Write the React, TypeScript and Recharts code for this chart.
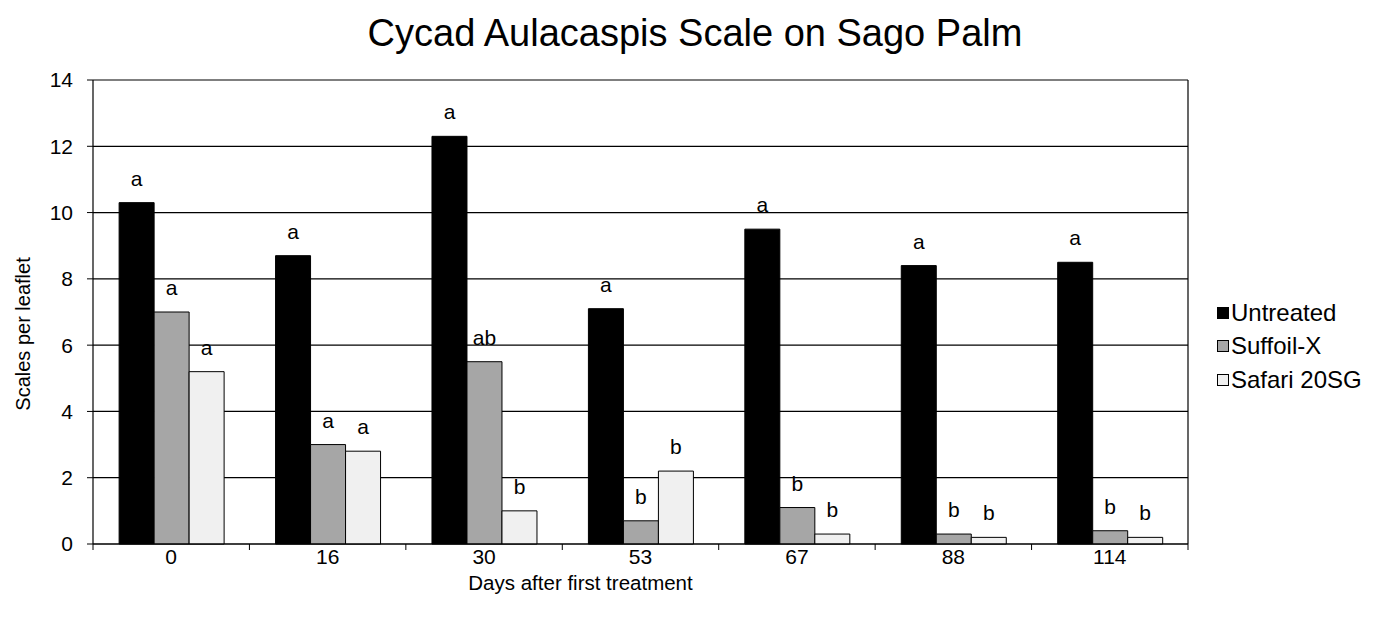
import React from 'react';
import { BarChart, Bar, XAxis, YAxis, CartesianGrid, LabelList } from 'recharts';

const days = ['0', '16', '30', '53', '67', '88', '114'];
const untreated = [10.3, 8.7, 12.3, 7.1, 9.5, 8.4, 8.5];
const suffoil = [7.0, 3.0, 5.5, 0.7, 1.1, 0.3, 0.4];
const safari = [5.2, 2.8, 1.0, 2.2, 0.3, 0.2, 0.2];
const untreatedLetters = ['a', 'a', 'a', 'a', 'a', 'a', 'a'];
const suffoilLetters = ['a', 'a', 'ab', 'b', 'b', 'b', 'b'];
const safariLetters = ['a', 'a', 'b', 'b', 'b', 'b', 'b'];
const yTicks = [0, 2, 4, 6, 8, 10, 12, 14];
const seriesNames = ['Untreated', 'Suffoil-X', 'Safari 20SG'];
const seriesColors = ['#000000', '#A6A6A6', '#F0F0F0'];

const TITLE = 'Cycad Aulacaspis Scale on Sago Palm';
const X_TITLE = 'Days after first treatment';
const Y_TITLE = 'Scales per leaflet';

const FONT = '"Liberation Sans", Arial, sans-serif';
const TICK_FS = 21;

const data = days.map((d, i) => ({
  day: d,
  untreated: untreated[i],
  suffoil: suffoil[i],
  safari: safari[i],
  untreatedL: untreatedLetters[i],
  suffoilL: suffoilLetters[i],
  safariL: safariLetters[i],
}));

const XTick = (props: any) => {
  const { x, y, payload, index, visibleTicksCount, width } = props;
  const n = visibleTicksCount || days.length;
  const half = payload && payload.offset ? payload.offset : width / n / 2;
  const isLast = index === n - 1;
  return (
    <g>
      <line x1={x - half} x2={x - half} y1={y} y2={y + 6} stroke="#000" strokeWidth={1} />
      {isLast && <line x1={x + half} x2={x + half} y1={y} y2={y + 6} stroke="#000" strokeWidth={1} />}
      <text x={x} y={y + 20} textAnchor="middle" fontSize={TICK_FS} fontFamily={FONT} fill="#000">
        {payload.value}
      </text>
    </g>
  );
};

const YTitle = (props: any) => {
  const vb = props.viewBox || {};
  const cx = vb.x - 10;
  const cy = vb.y + vb.height / 2 + 22;
  return (
    <text
      x={cx}
      y={cy}
      transform={`rotate(-90 ${cx} ${cy})`}
      textAnchor="middle"
      dominantBaseline="central"
      fontSize={20}
      fontFamily={FONT}
      fill="#000"
    >
      {Y_TITLE}
    </text>
  );
};

const XTitle = (props: any) => {
  const vb = props.viewBox || {};
  const cx = vb.x + vb.width / 2 - 60;
  const cy = vb.y + 38;
  return (
    <text x={cx} y={cy} textAnchor="middle" dominantBaseline="central" fontSize={20.5} fontFamily={FONT} fill="#000">
      {X_TITLE}
    </text>
  );
};

const ChartLegend = () => (
  <div
    style={{
      position: 'absolute',
      left: 1217,
      top: 296,
      fontFamily: FONT,
      fontSize: 24,
      color: '#000',
      whiteSpace: 'nowrap',
    }}
  >
    {seriesNames.map((n, i) => (
      <div key={n} style={{ display: 'flex', alignItems: 'center', height: 33.5 }}>
        <span
          style={{
            display: 'inline-block',
            width: 10,
            height: 10,
            background: seriesColors[i],
            border: '1px solid #000',
            marginRight: 2,
          }}
        />
        <span>{n}</span>
      </div>
    ))}
  </div>
);

export default function App() {
  const labelStyle = { fontSize: 21, fontFamily: FONT, fill: '#000' };
  return (
    <div style={{ position: 'absolute', left: 0, top: 0, width: 1390, height: 624, background: '#fff' }}>
      <div
        style={{
          position: 'absolute',
          left: 0,
          top: 12,
          width: 1390,
          textAlign: 'center',
          fontFamily: FONT,
          fontSize: 38,
          color: '#000',
          lineHeight: '42px',
        }}
      >
        {TITLE}
      </div>
      <BarChart
        width={1390}
        height={624}
        data={data}
        margin={{ top: 80, right: 202, bottom: 30, left: 33 }}
        barCategoryGap="16.7%"
        barGap={0}
        style={{ position: 'absolute', left: 0, top: 0 }}
      >
        <CartesianGrid
          stroke="#000"
          strokeWidth={1.2}
          verticalCoordinatesGenerator={(p: any) => [p.offset.left + p.offset.width]}
        />
        <XAxis
          dataKey="day"
          height={50}
          tickLine={false}
          axisLine={{ stroke: '#000', strokeWidth: 1.2 }}
          tickSize={0}
          tickMargin={0}
          interval={0}
          tick={XTick}
          label={{ content: XTitle }}
        />
        <YAxis
          width={60}
          domain={[0, 14]}
          ticks={yTicks}
          interval={0}
          tickSize={6}
          tickMargin={14}
          tickLine={{ stroke: '#000' }}
          axisLine={{ stroke: '#000', strokeWidth: 1.2 }}
          tick={{ fontSize: TICK_FS, fontFamily: FONT, fill: '#000' }}
          label={{ content: YTitle }}
        />
        <Bar dataKey="untreated" name={seriesNames[0]} fill={seriesColors[0]} stroke="#000" strokeWidth={1} isAnimationActive={false}>
          <LabelList dataKey="untreatedL" position="top" offset={17} style={labelStyle} />
        </Bar>
        <Bar dataKey="suffoil" name={seriesNames[1]} fill={seriesColors[1]} stroke="#000" strokeWidth={1} isAnimationActive={false}>
          <LabelList dataKey="suffoilL" position="top" offset={17} style={labelStyle} />
        </Bar>
        <Bar dataKey="safari" name={seriesNames[2]} fill={seriesColors[2]} stroke="#000" strokeWidth={1} isAnimationActive={false}>
          <LabelList dataKey="safariL" position="top" offset={17} style={labelStyle} />
        </Bar>
      </BarChart>
      <ChartLegend />
    </div>
  );
}
